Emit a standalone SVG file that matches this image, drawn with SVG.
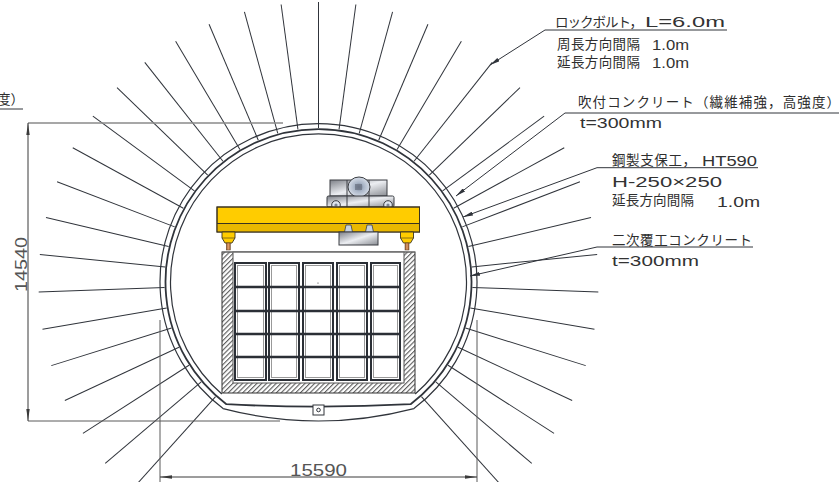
<svg xmlns="http://www.w3.org/2000/svg" width="839" height="482" viewBox="0 0 839 482">
<defs>
<style>
.bolt{stroke:#30343b;stroke-width:1}
.ring{fill:none;stroke:#30343b}
.dim{stroke:#3a3a3a;stroke-width:1;fill:none}
.ext{stroke:#5a5a5a;stroke-width:1;fill:none}
.lead{stroke:#30343b;stroke-width:1;fill:none}
.jp{font-family:"Noto Sans CJK JP","Noto Sans",sans-serif;font-size:13.5px;fill:#2e2e2e}
.lat{font-family:"Liberation Sans","DejaVu Sans",sans-serif;font-size:14px;fill:#333}
.dimtxt{font-family:"Liberation Sans","DejaVu Sans",sans-serif;font-size:17px;fill:#555}
.frame{fill:none;stroke:#2b2f36;stroke-width:2}
.metal{stroke:#3a3d42;stroke-width:1}
</style>
<line id="bolt" x1="472.5" y1="282" x2="598.5" y2="282" class="bolt"/>
<pattern id="hatch" patternUnits="userSpaceOnUse" width="3.4" height="3.4" patternTransform="rotate(45)">
<rect width="3.4" height="3.4" fill="#fff"/>
<line x1="0.6" y1="0" x2="0.6" y2="3.4" stroke="#4a4a4a" stroke-width="1"/>
</pattern>
<linearGradient id="steel" x1="0" y1="0" x2="1" y2="1">
<stop offset="0" stop-color="#7d8087"/>
<stop offset="0.5" stop-color="#eceef2"/>
<stop offset="1" stop-color="#8a8d93"/>
</linearGradient>
<radialGradient id="drum" cx="0.5" cy="0.5" r="0.6">
<stop offset="0" stop-color="#5f6a7a"/>
<stop offset="0.35" stop-color="#a8b4c6"/>
<stop offset="1" stop-color="#e6ebf3"/>
</radialGradient>
<linearGradient id="pin" x1="0" y1="0" x2="1" y2="0">
<stop offset="0" stop-color="#9a5a2a"/>
<stop offset="0.5" stop-color="#e0a070"/>
<stop offset="1" stop-color="#9a5a2a"/>
</linearGradient>
<marker id="arr" viewBox="0 0 10 4" refX="10" refY="2" markerWidth="10" markerHeight="4" markerUnits="userSpaceOnUse" orient="auto">
<path d="M0,0 L10,2 L0,4 z" fill="#30343b"/>
</marker>
<marker id="dimArr" viewBox="0 0 12 4" refX="12" refY="2" markerWidth="12" markerHeight="4" markerUnits="userSpaceOnUse" orient="auto">
<path d="M0,0.3 L12,2 L0,3.7 z" fill="#3a3a3a"/>
</marker>
</defs>

<rect width="839" height="482" fill="#fff"/>

<!-- rock bolts, radial at 7.67 deg pitch -->
<g id="rock-bolts">
<use href="#bolt" transform="rotate(-228.06 318.5 282)"/>
<use href="#bolt" transform="rotate(-220.39 318.5 282)"/>
<use href="#bolt" transform="rotate(-212.72 318.5 282)"/>
<use href="#bolt" transform="rotate(-205.05 318.5 282)"/>
<use href="#bolt" transform="rotate(-197.38 318.5 282)"/>
<use href="#bolt" transform="rotate(-189.71 318.5 282)"/>
<use href="#bolt" transform="rotate(-182.04 318.5 282)"/>
<use href="#bolt" transform="rotate(-174.37 318.5 282)"/>
<use href="#bolt" transform="rotate(-166.70 318.5 282)"/>
<use href="#bolt" transform="rotate(-159.03 318.5 282)"/>
<use href="#bolt" transform="rotate(-151.36 318.5 282)"/>
<use href="#bolt" transform="rotate(-143.69 318.5 282)"/>
<use href="#bolt" transform="rotate(-136.02 318.5 282)"/>
<use href="#bolt" transform="rotate(-128.35 318.5 282)"/>
<use href="#bolt" transform="rotate(-120.68 318.5 282)"/>
<use href="#bolt" transform="rotate(-113.01 318.5 282)"/>
<use href="#bolt" transform="rotate(-105.34 318.5 282)"/>
<use href="#bolt" transform="rotate(-97.67 318.5 282)"/>
<use href="#bolt" transform="rotate(-90 318.5 282)"/>
<use href="#bolt" transform="rotate(-82.33 318.5 282)"/>
<use href="#bolt" transform="rotate(-74.66 318.5 282)"/>
<use href="#bolt" transform="rotate(-66.99 318.5 282)"/>
<use href="#bolt" transform="rotate(-59.32 318.5 282)"/>
<use href="#bolt" transform="rotate(-51.65 318.5 282)"/>
<use href="#bolt" transform="rotate(-43.98 318.5 282)"/>
<use href="#bolt" transform="rotate(-36.31 318.5 282)"/>
<use href="#bolt" transform="rotate(-28.64 318.5 282)"/>
<use href="#bolt" transform="rotate(-20.97 318.5 282)"/>
<use href="#bolt" transform="rotate(-13.30 318.5 282)"/>
<use href="#bolt" transform="rotate(-5.63 318.5 282)"/>
<use href="#bolt" transform="rotate(2.04 318.5 282)"/>
<use href="#bolt" transform="rotate(9.71 318.5 282)"/>
<use href="#bolt" transform="rotate(17.38 318.5 282)"/>
<use href="#bolt" transform="rotate(25.05 318.5 282)"/>
<use href="#bolt" transform="rotate(32.72 318.5 282)"/>
<use href="#bolt" transform="rotate(40.39 318.5 282)"/>
<use href="#bolt" transform="rotate(48.06 318.5 282)"/>
</g>

<!-- tunnel lining rings -->
<g id="lining">
<path class="ring" stroke-width="1.2" d="M223.1,408.6 A158.5,158.5 0 1 1 413.9,408.6 Q318.5,433.4 223.1,408.6 Z"/>
<path class="ring" stroke-width="1.8" d="M226.4,404.2 A153,153 0 1 1 410.6,404.2 Q318.5,409 226.4,404.2 Z"/>
<path class="ring" stroke-width="1.2" d="M221.8,394 A148,148 0 1 1 415.2,394"/>
<rect x="313" y="405" width="11" height="10" fill="#fff" stroke="#30343b" stroke-width="1"/>
<circle cx="318.5" cy="410" r="1.8" fill="none" stroke="#30343b" stroke-width="1"/>
</g>

<!-- container with hatched walls -->
<g id="container">
<rect x="222" y="252" width="193" height="141" fill="url(#hatch)" stroke="#333" stroke-width="1"/>
<rect x="233" y="252" width="171" height="131" fill="#fff" stroke="#555" stroke-width="1"/>
<line x1="222" y1="252" x2="415" y2="252" stroke="#777" stroke-width="1"/>
</g>

<!-- stacked frames -->
<g id="frames">
<rect class="frame" x="235" y="263" width="31" height="117"/>
<rect class="frame" x="269" y="263" width="30" height="117"/>
<rect class="frame" x="303" y="263" width="30" height="117"/>
<rect class="frame" x="337" y="263" width="30" height="117"/>
<rect class="frame" x="371" y="263" width="29" height="117"/>
<g stroke="#999" stroke-width="1" fill="none">
<rect x="237.5" y="265.5" width="26" height="112"/>
<rect x="271.5" y="265.5" width="25" height="112"/>
<rect x="305.5" y="265.5" width="25" height="112"/>
<rect x="339.5" y="265.5" width="25" height="112"/>
<rect x="373.5" y="265.5" width="24" height="112"/>
</g>
<g stroke="#2b2f36" stroke-width="2.4">
<line x1="235" y1="287" x2="400" y2="287"/>
<line x1="235" y1="311" x2="400" y2="311"/>
<line x1="235" y1="334" x2="400" y2="334"/>
<line x1="235" y1="357" x2="400" y2="357"/>
</g>
<circle cx="318" cy="283" r="0.6" fill="#333"/>
</g>

<!-- overhead crane -->
<g id="crane">
<rect x="330" y="180" width="57" height="16" fill="url(#steel)" class="metal"/>
<line x1="347" y1="180" x2="347" y2="196" class="metal"/>
<line x1="369" y1="180" x2="369" y2="196" class="metal"/>
<ellipse cx="359" cy="187" rx="11" ry="10" fill="url(#drum)" class="metal"/>
<rect x="355" y="184" width="7" height="6" fill="#6f7888" opacity="0.8"/>
<rect x="327" y="196" width="67" height="11" rx="1.5" fill="url(#steel)" class="metal"/>
<line x1="347" y1="196" x2="347" y2="207" class="metal"/>
<line x1="369" y1="196" x2="369" y2="207" class="metal"/>
<circle cx="336" cy="205" r="4.3" fill="#dfe5ee" class="metal"/>
<circle cx="336" cy="205" r="1.6" fill="#7c8595"/>
<circle cx="388" cy="205" r="4.3" fill="#dfe5ee" class="metal"/>
<circle cx="388" cy="205" r="1.6" fill="#7c8595"/>
<rect x="217" y="207" width="202.5" height="25" fill="#ffcc00" stroke="#3a3320" stroke-width="1"/>
<rect x="217.5" y="223.5" width="201.5" height="8" fill="#eab800"/>
<line x1="217" y1="223.5" x2="419.5" y2="223.5" stroke="#3a3320" stroke-width="1"/>
<rect x="217" y="207" width="202.5" height="25" fill="none" stroke="#3a3320" stroke-width="1"/>
<path d="M346,225 L351,225 L352.5,232 L344.5,232 Z" fill="#c8d2e0" stroke="#3a3d42" stroke-width="0.8"/>
<path d="M367,225 L372,225 L373.5,232 L365.5,232 Z" fill="#c8d2e0" stroke="#3a3d42" stroke-width="0.8"/>
<rect x="339" y="232" width="39" height="13" fill="url(#steel)" class="metal"/>
<path d="M222,232 L235,232 L235,238 L232,243 L225,243 L222,238 Z" fill="#ffcc00" stroke="#3a3320" stroke-width="0.9"/>
<line x1="222" y1="238" x2="235" y2="238" stroke="#3a3320" stroke-width="0.6"/>
<rect x="226.3" y="243" width="4" height="7" fill="url(#pin)" stroke="#5a3a20" stroke-width="0.5"/>
<path d="M400.5,232 L413.5,232 L413.5,238 L410.5,243 L403.5,243 L400.5,238 Z" fill="#ffcc00" stroke="#3a3320" stroke-width="0.9"/>
<line x1="400.5" y1="238" x2="413.5" y2="238" stroke="#3a3320" stroke-width="0.6"/>
<rect x="405" y="243" width="4" height="7" fill="url(#pin)" stroke="#5a3a20" stroke-width="0.5"/>
</g>

<!-- dimensions -->
<g id="dimensions">
<line x1="28" y1="123" x2="283" y2="123" stroke="#8a8a8a" stroke-width="1.6"/>
<line x1="28" y1="421" x2="280" y2="421" class="ext"/>
<line x1="160" y1="320" x2="160" y2="482" class="ext"/>
<line x1="477" y1="320" x2="477" y2="482" class="ext"/>
<line x1="28" y1="272" x2="28" y2="123" class="dim" marker-end="url(#dimArr)"/>
<line x1="28" y1="272" x2="28" y2="421" class="dim" marker-end="url(#dimArr)"/>
<line x1="318.5" y1="477" x2="160" y2="477" class="dim" marker-end="url(#dimArr)"/>
<line x1="318.5" y1="477" x2="477" y2="477" class="dim" marker-end="url(#dimArr)"/>
<text class="dimtxt" transform="translate(27,264.5) rotate(-90)" text-anchor="middle" textLength="55" lengthAdjust="spacingAndGlyphs">14540</text>
<text class="dimtxt" x="290" y="476" textLength="57" lengthAdjust="spacingAndGlyphs">15590</text>
</g>

<!-- leaders -->
<g id="connectors">
<polyline class="lead" points="727,30 545,30 490,65" marker-end="url(#arr)"/>
<polyline class="lead" points="839,113 565,113 456,196" marker-end="url(#arr)"/>
<polyline class="lead" points="758,167.7 597,167.7 463,217" marker-end="url(#arr)"/>
<polyline class="lead" points="753,247 597,247 470,276" marker-end="url(#arr)"/>
<line x1="0" y1="109" x2="23" y2="109" class="lead"/>
</g>

<!-- labels -->
<g id="label-bolt">
<text class="jp" x="555" y="27" textLength="88" lengthAdjust="spacing">ロックボルト，</text>
<text class="lat" x="645" y="27" textLength="80" lengthAdjust="spacingAndGlyphs">L=6.0m</text>
<text class="jp" x="557" y="48.5" textLength="83" lengthAdjust="spacing">周長方向間隔</text>
<text class="lat" x="652" y="50" textLength="37" lengthAdjust="spacingAndGlyphs">1.0m</text>
<text class="jp" x="557" y="66.7" textLength="83" lengthAdjust="spacing">延長方向間隔</text>
<text class="lat" x="652" y="68.3" textLength="37" lengthAdjust="spacingAndGlyphs">1.0m</text>
</g>
<g id="label-shotcrete">
<text class="jp" x="578" y="106.5" textLength="262" lengthAdjust="spacing">吹付コンクリート（繊維補強，高強度）</text>
<text class="lat" x="580" y="128" textLength="82" lengthAdjust="spacingAndGlyphs">t=300mm</text>
<text class="jp" x="-3" y="104">度）</text>
</g>
<g id="label-steel">
<text class="jp" x="612" y="165" textLength="84" lengthAdjust="spacing">鋼製支保工，</text>
<text class="lat" x="702" y="166" textLength="55" lengthAdjust="spacingAndGlyphs">HT590</text>
<text class="lat" x="612" y="186.5" textLength="110" lengthAdjust="spacingAndGlyphs">H-250×250</text>
<text class="jp" x="612" y="205" textLength="82" lengthAdjust="spacing">延長方向間隔</text>
<text class="lat" x="717" y="206.7" textLength="43" lengthAdjust="spacingAndGlyphs">1.0m</text>
</g>
<g id="label-lining">
<text class="jp" x="612" y="245" textLength="140" lengthAdjust="spacing">二次覆工コンクリート</text>
<text class="lat" x="612" y="266" textLength="87" lengthAdjust="spacingAndGlyphs">t=300mm</text>
</g>
</svg>
